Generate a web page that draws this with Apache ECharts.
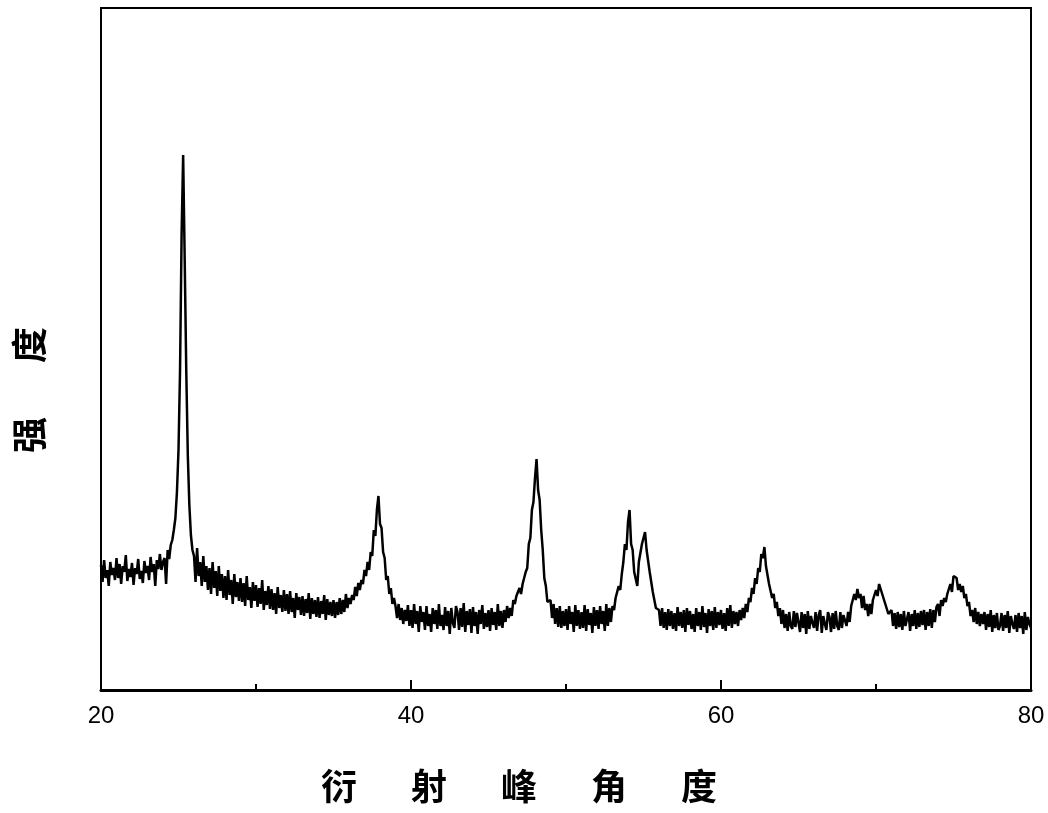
<!DOCTYPE html>
<html>
<head>
<meta charset="utf-8">
<script src="https://cdn.jsdelivr.net/npm/echarts@6/dist/echarts.min.js"></script>
<style>
html,body{margin:0;padding:0;background:#fff;}
#chart{width:1048px;height:813px;}
</style>
</head>
<body>
<div id="chart"></div>
<script>
// XRD pattern: 2θ from 20° to 80°, sampled every 0.1°
const angleStart = 20;
const angleStep = 0.1;
const xTickLabels = ['20', '40', '60', '80'];
const xAxisTitle = ['衍', '射', '峰', '角', '度'];
const yAxisTitle = ['强', '度'];
// intensity (arbitrary units), one row per degree
const intensity = [
  125,108,130,112,120,104,128,115,122,110,   // 20
  132,112,126,106,124,118,135,109,121,113,   // 21
  127,105,122,116,131,111,119,107,129,117,   // 22
  124,110,133,118,126,104,130,121,136,120,   // 23
  128,132,106,140,131,145,150,160,172,198,   // 24
  240,320,455,535,430,320,235,185,155,140,   // 25
  134,108,142,114,128,104,134,108,124,100,   // 26
  122,96,128,102,119,94,124,99,116,92,       // 27
  114,90,120,95,110,86,116,93,108,89,        // 28
  112,88,107,84,114,90,103,82,108,89,        // 29
  105,83,102,86,110,80,99,85,104,81,         // 30
  101,80,97,76,103,82,95,78,100,79,          // 31
  96,76,99,78,92,72,97,80,93,75,             // 32
  94,74,91,77,97,71,92,76,90,73,             // 33
  93,72,89,76,95,70,91,75,88,74,             // 34
  90,72,88,75,92,76,90,78,96,82,             // 35
  92,86,95,90,103,94,107,100,110,106,        // 36
  120,114,128,120,138,134,160,154,180,194,   // 37
  166,162,138,132,110,114,96,102,86,92,      // 38
  84,72,86,70,82,66,80,69,85,64,             // 39
  80,62,86,66,79,58,84,68,78,60,             // 40
  84,64,76,58,82,66,80,61,86,64,             // 41
  75,60,83,64,79,56,82,67,62,84,             // 42
  78,60,82,63,87,58,79,65,81,57,             // 43
  83,64,78,56,80,66,85,61,77,63,             // 44
  80,59,82,65,78,60,86,64,79,62,             // 45
  80,68,84,72,82,74,90,86,94,92,             // 46
  102,96,106,104,118,122,146,152,180,188,    // 47
  212,231,200,190,160,140,112,104,88,90,     // 48
  90,72,86,66,82,63,84,62,79,64,             // 49
  81,60,84,66,78,58,85,64,80,61,             // 50
  78,62,85,59,81,65,77,57,83,64,             // 51
  80,61,84,66,79,59,86,64,82,68,             // 52
  84,80,92,90,104,100,116,128,146,140,       // 53
  168,180,146,140,118,118,104,128,128,146,   // 54
  146,158,140,142,118,118,98,96,82,84,       // 55
  80,64,82,62,78,60,81,64,79,61,             // 56
  77,59,83,64,78,62,80,58,82,65,             // 57
  79,61,76,58,82,64,78,60,84,63,             // 58
  77,57,81,64,79,60,83,62,78,65,             // 59
  80,61,77,59,82,64,85,62,79,66,             // 60
  78,64,80,70,82,72,86,78,92,88,             // 61
  102,96,112,106,122,118,136,132,143,124,    // 62
  126,106,108,92,96,82,88,74,82,66,          // 63
  80,62,76,59,78,64,61,79,63,77,             // 64
  75,58,78,62,76,56,79,61,74,67,             // 65
  62,78,59,75,80,57,74,66,60,78,             // 66
  73,58,77,61,79,64,60,78,62,75,             // 67
  76,64,78,68,84,82,96,90,101,92,            // 68
  96,82,94,80,86,74,86,76,90,88,             // 69
  100,94,106,107,96,98,86,88,76,78,          // 70
  80,64,77,61,78,63,76,60,79,64,             // 71
  62,78,59,76,64,80,61,77,63,79,             // 72
  65,80,60,78,64,81,62,80,68,83,             // 73
  86,74,90,84,92,88,96,94,106,98,            // 74
  114,112,112,100,106,98,104,92,96,84,       // 75
  88,74,80,68,82,66,78,64,76,66,             // 76
  78,60,76,63,80,58,75,62,77,60,             // 77
  64,77,59,75,62,79,57,74,66,61,             // 78
  75,58,77,62,74,56,78,60,73,66,             // 79
  62                                         // 80
];

const seriesData = intensity.map((v, i) => [+(angleStart + i * angleStep).toFixed(1), v]);
const richChar = { width: 90, align: 'center', fontSize: 36, fontWeight: 'bold', color: '#000', fontFamily: '"Noto Sans CJK SC", sans-serif' };

const chart = echarts.init(document.getElementById('chart'), null, { renderer: 'canvas' });
chart.setOption({
  animation: false,
  backgroundColor: '#fff',
  grid: { left: 101, right: 17, top: 8, bottom: 123, show: true, borderColor: '#000', borderWidth: 2, containLabel: false },
  xAxis: {
    type: 'value', min: 20, max: 80, interval: 20,
    axisLine: { show: true, onZero: false, lineStyle: { color: '#000', width: 3 } },
    axisTick: { show: true, inside: true, length: 10, lineStyle: { color: '#000', width: 2 } },
    minorTick: { show: true, splitNumber: 2, length: 6, lineStyle: { color: '#000', width: 2 } },
    splitLine: { show: false },
    axisLabel: { color: '#000', fontSize: 24, margin: 14, fontFamily: '"Liberation Sans", Arial, sans-serif',
      formatter: v => xTickLabels[(v - 20) / 20] },
    name: xAxisTitle.map(c => '{c|' + c + '}').join(''),
    nameLocation: 'middle', nameGap: 78,
    nameTextStyle: { padding: [0, 94, 0, 0], rich: { c: richChar } }
  },
  yAxis: {
    type: 'value', min: 0, max: 682,
    axisLine: { show: true, lineStyle: { color: '#000', width: 2 } },
    axisTick: { show: false }, axisLabel: { show: false }, splitLine: { show: false },
    name: yAxisTitle.map(c => '{c|' + c + '}').join(''),
    nameLocation: 'middle', nameGap: 54,
    nameTextStyle: { padding: [0, 82, 0, 0], rich: { c: richChar } }
  },
  series: [{
    type: 'line', data: seriesData, showSymbol: false, symbol: 'none',
    lineStyle: { color: '#000', width: 2.5 }, silent: true
  }]
});
</script>
</body>
</html>
